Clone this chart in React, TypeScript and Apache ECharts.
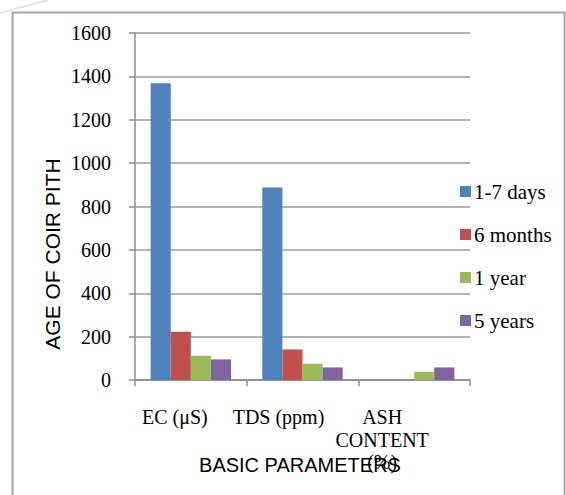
import React, { useEffect, useRef } from "react";
import * as echarts from "echarts";

const categories = ["EC (μS)", "TDS (ppm)", "ASH\nCONTENT\n(%)"];
const seriesNames = ["1-7 days", "6 months", "1 year", "5 years"];
const days1to7 = [1368, 888, 0];
const months6 = [222, 141, 0];
const year1 = [112, 75, 38];
const years5 = [95, 58, 58];
const colors = ["#4F81BD", "#C0504D", "#9BBB59", "#8064A2"];
const yTicks = { min: 0, max: 1600, interval: 200 };

export default function App() {
  const ref = useRef<HTMLDivElement>(null);
  useEffect(() => {
    if (!ref.current) return;
    const chart = echarts.init(ref.current, null, { renderer: "svg" });
    const serif = "'Liberation Serif', 'Times New Roman', serif";
    const sans = "'Liberation Sans', Arial, sans-serif";
    const data = [days1to7, months6, year1, years5];
    chart.setOption({
      animation: false,
      backgroundColor: "#ffffff",
      color: colors,
      grid: { left: 135, right: 96, top: 33, bottom: 115 },
      legend: {
        orient: "vertical",
        left: 455,
        top: 176,
        itemWidth: 11,
        itemHeight: 11,
        itemGap: 22,
        icon: "rect",
        textStyle: { fontFamily: serif, fontSize: 21, color: "#000", lineHeight: 21, padding: [0, 0, 0, -2] },
        data: seriesNames,
      },
      xAxis: {
        type: "category",
        data: categories,
        axisLine: { lineStyle: { color: "#8c8c8c", width: 1.5 } },
        axisTick: { show: true, length: 6, lineStyle: { color: "#8c8c8c", width: 1.5 } },
        axisLabel: {
          margin: 26,
          interval: 0,
          formatter: (v: string, i: number) => {
            const key = ["a", "b", "c"][i];
            return v.split("\n").map((l) => `{${key}|${l}}`).join("\n");
          },
          rich: {
            a: { fontFamily: serif, fontSize: 20, color: "#000", lineHeight: 22.5, padding: [0, 32, 0, 0] },
            b: { fontFamily: serif, fontSize: 20, color: "#000", lineHeight: 22.5, padding: [0, 48, 0, 0] },
            c: { fontFamily: serif, fontSize: 20, color: "#000", lineHeight: 22.5, padding: [0, 64, 0, 0] },
          },
        },
      },
      yAxis: {
        type: "value",
        min: yTicks.min,
        max: yTicks.max,
        interval: yTicks.interval,
        axisLine: { show: true, lineStyle: { color: "#8c8c8c", width: 1.5 } },
        axisTick: { show: true, length: 6, lineStyle: { color: "#8c8c8c", width: 1.5 } },
        axisLabel: {
          margin: 24,
          fontFamily: serif,
          fontSize: 20,
          color: "#000",
          formatter: (v: number) => String(v),
        },
        splitLine: { lineStyle: { color: "#9a9a9a", width: 1.5 } },
      },
      series: seriesNames.map((name, i) => ({
        name,
        type: "bar",
        data: data[i],
        barGap: "0%",
        barCategoryGap: "28%",
        itemStyle: { color: colors[i] },
      })),
      graphic: [
        {
          type: "rect",
          shape: { x: 12.5, y: 12.5, width: 552, height: 520 },
          style: { fill: "none", stroke: "#a6a6a6", lineWidth: 2 },
          silent: true,
        },
        {
          type: "line",
          shape: { x1: 0, y1: 13, x2: 48, y2: 0 },
          style: { stroke: "#e4e4e4", lineWidth: 2 },
          silent: true,
        },
        {
          type: "text",
          x: 52,
          y: 254,
          rotation: Math.PI / 2,
          style: {
            text: "AGE OF COIR PITH",
            font: `21px ${sans}`,
            fill: "#000",
            textAlign: "center",
            textVerticalAlign: "middle",
          },
        },
        {
          type: "text",
          x: 300,
          y: 465,
          style: {
            text: "BASIC PARAMETERS",
            font: `20px ${sans}`,
            fill: "#000",
            textAlign: "center",
            textVerticalAlign: "middle",
          },
        },
      ],
    });
    return () => chart.dispose();
  }, []);
  return (
    <div
      ref={ref}
      style={{ position: "fixed", left: 0, top: 0, width: 566, height: 495 }}
    />
  );
}
